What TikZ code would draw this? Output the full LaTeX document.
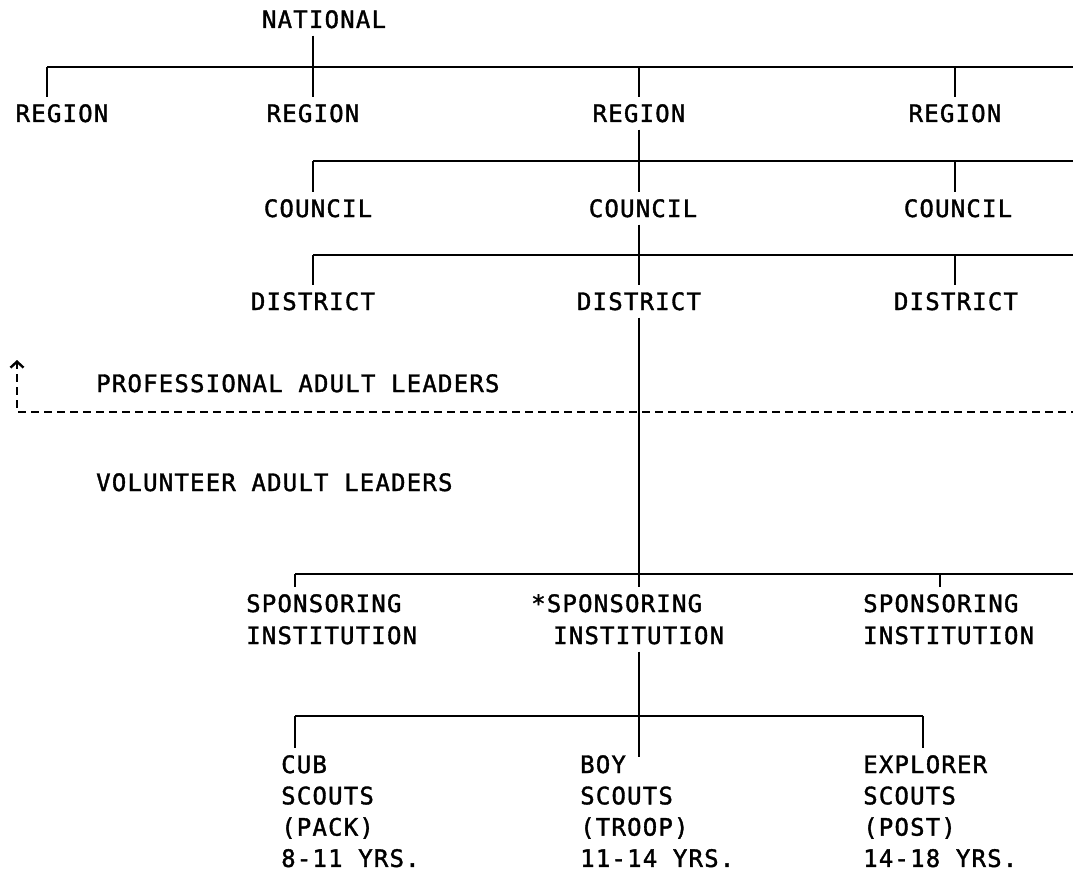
\documentclass[tikz,border=0pt]{standalone}
\usepackage{fontspec}
\newfontfamily\chartfont[LetterSpace=5,FakeBold=1.5]{DejaVu Sans Mono}
\usetikzlibrary{arrows.meta}
\tikzset{
  lbl/.style={font=\chartfont\fontsize{24}{32}\selectfont, inner xsep=0pt, inner ysep=6pt, anchor=base},
  lblw/.style={lbl, anchor=base west},
  stack/.style={lbl, anchor=north west, align=left},
  unit/.style={stack, font=\chartfont\fontsize{24}{31.3}\selectfont},
  divide/.style={dash pattern=on 8pt off 5pt}
}
\begin{document}
\begin{tikzpicture}[x=1pt,y=-1pt,line width=2.4pt]
   \useasboundingbox (0,0) rectangle (1073,872);
   % national and regions
   \node[lbl] (nat) at (324,28) {NATIONAL};
   \node[lbl] (reg1) at (62,122) {REGION};
   \node[lbl] (reg2) at (313,122) {REGION};
   \node[lbl] (reg3) at (639,122) {REGION};
   \node[lbl] (reg4) at (955,122) {REGION};
   \coordinate (rb0) at (47,67);
   \coordinate (rb1) at (1073,67);
   \draw (rb0) -- (rb1);
   \draw (rb0) -- (rb0 |- reg1.north);
   \draw (nat.south -| reg2) -- (reg2.north);
   \draw (reg3 |- rb0) -- (reg3.north);
   \draw (reg4 |- rb0) -- (reg4.north);
   % councils
   \node[lbl] (cou1) at (318,217) {COUNCIL};
   \node[lbl] (cou2) at (643,217) {COUNCIL};
   \node[lbl] (cou3) at (958,217) {COUNCIL};
   \coordinate (cb0) at (313,161);
   \coordinate (cb1) at (1073,161);
   \draw (cb0) -- (cb1);
   \draw (cb0) -- (cb0 |- cou1.north);
   \draw (reg3.south) -- (reg3 |- cou2.north);
   \draw (reg4 |- cb0) -- (reg4 |- cou3.north);
   % districts
   \node[lbl] (dis1) at (313,310) {DISTRICT};
   \node[lbl] (dis2) at (639,310) {DISTRICT};
   \node[lbl] (dis3) at (956,310) {DISTRICT};
   \coordinate (db0) at (313,255);
   \coordinate (db1) at (1073,255);
   \draw (db0) -- (db1);
   \draw (db0) -- (db0 |- dis1.north);
   \draw (reg3 |- cou2.south) -- (reg3 |- dis2.north);
   \draw (reg4 |- db0) -- (reg4 |- dis3.north);
   % professional / volunteer split
   \node[lblw] (pro) at (95,392) {PROFESSIONAL ADULT LEADERS};
   \node[lblw] (vol) at (95,491) {VOLUNTEER ADULT LEADERS};
   \coordinate (dtop) at (17,361);
   \coordinate (dl) at (17,412);
   \coordinate (dr) at (1073,412);
   \draw[divide] (dtop) -- (dl) -- (dr);
   \draw[-{Straight Barb[length=6pt,width=13pt]}] ([yshift=-4pt]dtop) -- ([yshift=1pt]dtop);
   % sponsoring institutions
   \node[stack] (spo1) at (245,587) {SPONSORING\\INSTITUTION};
   \node[stack] (spo2) at (530,587) {*SPONSORING\\\hspace*{22pt}INSTITUTION};
   \node[stack] (spo3) at (862,587) {SPONSORING\\INSTITUTION};
   \coordinate (sb0) at (295,574);
   \coordinate (sb1) at (1073,574);
   \coordinate (sb3) at (940,574);
   \draw (sb0) -- (sb1);
   \draw (sb0) -- (sb0 |- spo1.north);
   \draw (sb3) -- (sb3 |- spo3.north);
   \draw (reg3 |- dis2.south) -- (reg3 |- spo2.north);
   % units
   \node[unit] (cub) at (280,748) {CUB\\SCOUTS\\(PACK)\\8-11 YRS.};
   \node[unit] (boy) at (579,748) {BOY\\SCOUTS\\(TROOP)\\11-14 YRS.};
   \node[unit] (exp) at (862,748) {EXPLORER\\SCOUTS\\(POST)\\14-18 YRS.};
   \coordinate (ub0) at (295,716);
   \coordinate (ub1) at (923,716);
   \coordinate (boytip) at (639,757);
   \draw (ub0) -- (ub1);
   \draw (ub0) -- (ub0 |- cub.north);
   \draw (ub1) -- (ub1 |- exp.north);
   \draw (reg3 |- spo2.south) -- (boytip);
\end{tikzpicture}
\end{document}
